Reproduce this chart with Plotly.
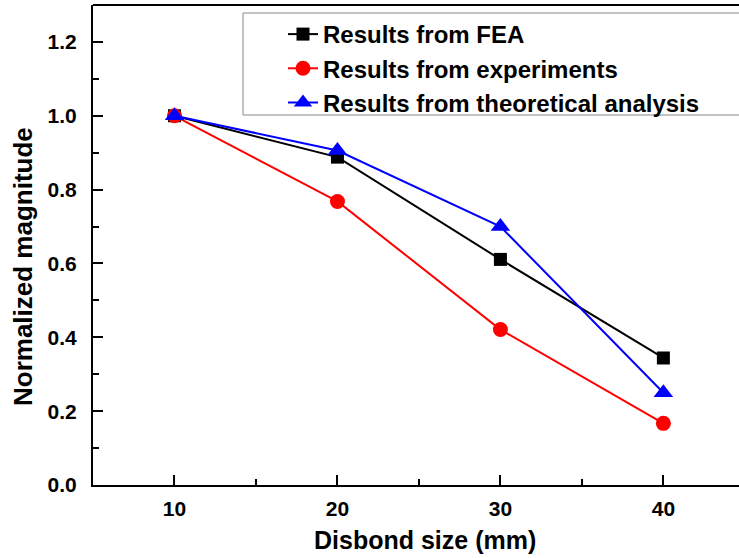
import plotly.graph_objects as go

disbond = [10, 20, 30, 40]
fea = [1.0, 0.888, 0.611, 0.344]
experiments = [1.0, 0.768, 0.421, 0.167]
theory = [1.0, 0.906, 0.700, 0.250]

names = ["Results from FEA", "Results from experiments", "Results from theoretical analysis"]
colors = ["black", "red", "blue"]
symbols = ["square", "circle", "triangle-up"]
sizes = [13, 15, 17]
series = [fea, experiments, theory]

FONT = "Arial, Liberation Sans, sans-serif"
W, H = 739, 558
L, R, T, B = 93, 0, 5, 73
PW, PH = W - L - R, H - T - B


def px(x):
    return (x - L) / PW


def py(y):
    return 1 - (y - T) / PH


fig = go.Figure()
for name, ys, c, s, sz in zip(names, series, colors, symbols, sizes):
    fig.add_trace(go.Scatter(
        x=disbond, y=ys, name=name, mode="lines+markers",
        line=dict(color=c, width=2),
        marker=dict(color=c, symbol=s, size=sz, line=dict(width=0)),
    ))

fig.update_layout(
    width=W, height=H,
    margin=dict(l=L, r=R, t=T, b=B),
    paper_bgcolor="white", plot_bgcolor="white",
    font=dict(family=FONT, color="black"),
    showlegend=True,
    legend=dict(
        x=px(283), xanchor="left", y=py(12), yanchor="top",
        bgcolor="rgba(0,0,0,0)", borderwidth=0,
        font=dict(family=FONT, size=24, color="black", weight="bold"),
        tracegroupgap=0, itemwidth=30,
    ),
    xaxis=dict(
        range=[5, 44.64], tickvals=[10, 20, 30, 40], ticktext=["10", "20", "30", "40"],
        showgrid=False, zeroline=False,
        showline=True, linecolor="black", linewidth=2,
        ticks="inside", ticklen=10, tickwidth=2, tickcolor="black",
        minor=dict(tickvals=[15, 25, 35], ticks="inside", ticklen=6, tickwidth=2, tickcolor="black"),
        tickfont=dict(family=FONT, size=21, color="black", weight="bold"),
        ticklabelstandoff=4,
    ),
    yaxis=dict(
        range=[0, 1.3], tickvals=[0, 0.2, 0.4, 0.6, 0.8, 1.0, 1.2],
        ticktext=["0.0", "0.2", "0.4", "0.6", "0.8", "1.0", "1.2"],
        showgrid=False, zeroline=False,
        showline=True, linecolor="black", linewidth=2,
        ticks="inside", ticklen=10, tickwidth=2, tickcolor="black",
        minor=dict(tickvals=[0.1, 0.3, 0.5, 0.7, 0.9, 1.1], ticks="inside", ticklen=6, tickwidth=2, tickcolor="black"),
        tickfont=dict(family=FONT, size=21, color="black", weight="bold"),
        ticklabelstandoff=10,
    ),
    annotations=[
        dict(text="Disbond size (mm)", xref="paper", yref="paper", x=px(425), y=py(540),
             xanchor="center", yanchor="middle", showarrow=False,
             font=dict(family=FONT, size=25, color="black", weight="bold")),
        dict(text="Normalized magnitude", xref="paper", yref="paper", x=px(23), y=py(267),
             xanchor="center", yanchor="middle", showarrow=False, textangle=-90,
             font=dict(family=FONT, size=26, color="black", weight="bold")),
    ],
    shapes=[
        dict(type="line", xref="paper", yref="paper", x0=0, x1=1, y0=1, y1=1,
             line=dict(color="black", width=2), layer="above"),
        dict(type="rect", xref="paper", yref="paper",
             x0=px(243), x1=1.01, y0=py(115), y1=py(13),
             line=dict(color="#888888", width=1), fillcolor="rgba(0,0,0,0)", layer="above"),
    ],
)

fig.write_html("out.html")
